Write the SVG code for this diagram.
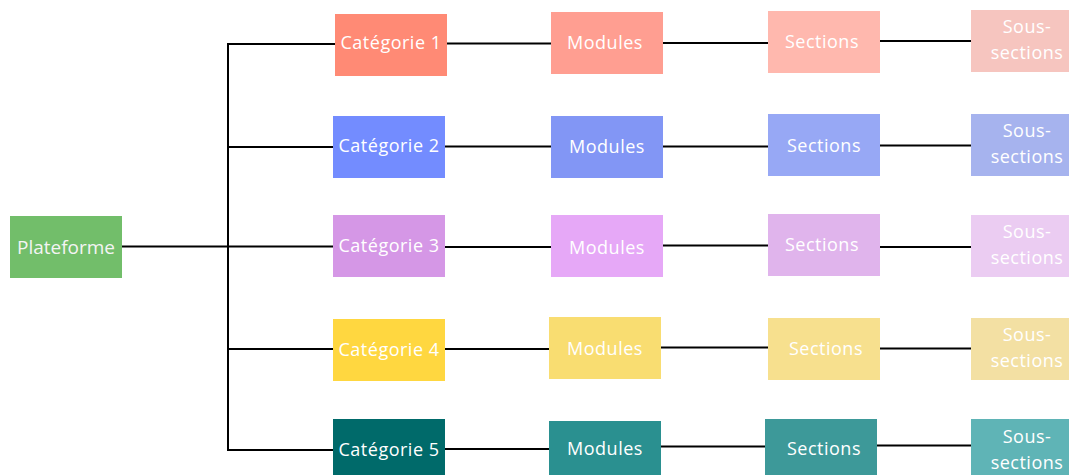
<svg xmlns="http://www.w3.org/2000/svg" width="1069" height="475" viewBox="0 0 1069 475">
<style>
.t{font-family:"Open Sans","Noto Sans",sans-serif;font-size:18px;fill:#fff;text-anchor:middle;letter-spacing:0.5px}
.p{font-family:"Open Sans","Noto Sans",sans-serif;font-size:19px;fill:#f4f4f4;text-anchor:middle}
.c{stroke:#000;stroke-width:2;fill:none}
</style>
<rect width="1069" height="475" fill="#fff"/>
<g id="connectors">
<path class="c" d="M122 246.5H228M228 43V451M228 44H335M228 147H333M228 246.5H333M228 349H333M228 450H333"/>
<path class="c" d="M447 43.5H551M663 43H768M878 41H971"/>
<path class="c" d="M445 146.5H551M663 146.5H768M880 145.5H971"/>
<path class="c" d="M445 247H551M663 245.5H768M880 247H971"/>
<path class="c" d="M445 349H549M661 347.5H768M878 348.5H971"/>
<path class="c" d="M445 449H549M661 446.5H765M877 445.5H971"/>
</g>
<g id="plateforme"><rect x="10" y="216" width="112" height="62" fill="#72be6a"/><text class="p" x="66" y="254">Plateforme</text></g>

<g id="cat1"><rect x="335" y="14" width="112" height="62" fill="#ff8a75"/><text class="t" x="391" y="49">Catégorie 1</text></g>
<g id="mod1"><rect x="551" y="12" width="112" height="62" fill="#ff9e91"/><text class="t" x="605" y="49">Modules</text></g>
<g id="sec1"><rect x="768" y="11" width="112" height="62" fill="#ffb8ae"/><text class="t" x="822" y="48">Sections</text></g>
<g id="sous1"><rect x="971" y="10" width="112" height="62" fill="#f6c5bf"/><text class="t" x="1027" y="33">Sous-</text><text class="t" x="1027" y="59">sections</text></g>

<g id="cat2"><rect x="333" y="116" width="112" height="62" fill="#738cff"/><text class="t" x="389" y="152">Catégorie 2</text></g>
<g id="mod2"><rect x="551" y="116" width="112" height="62" fill="#8296f5"/><text class="t" x="607" y="153">Modules</text></g>
<g id="sec2"><rect x="768" y="114" width="112" height="62" fill="#97a8f5"/><text class="t" x="824" y="152">Sections</text></g>
<g id="sous2"><rect x="971" y="114" width="112" height="62" fill="#a6b3ee"/><text class="t" x="1027" y="137">Sous-</text><text class="t" x="1027" y="163">sections</text></g>

<g id="cat3"><rect x="333" y="215" width="112" height="62" fill="#d597e6"/><text class="t" x="389" y="252">Catégorie 3</text></g>
<g id="mod3"><rect x="551" y="215" width="112" height="62" fill="#e6a8f7"/><text class="t" x="607" y="254">Modules</text></g>
<g id="sec3"><rect x="768" y="214" width="112" height="62" fill="#e0b4ec"/><text class="t" x="822" y="251">Sections</text></g>
<g id="sous3"><rect x="971" y="215" width="112" height="62" fill="#ebccf2"/><text class="t" x="1027" y="238">Sous-</text><text class="t" x="1027" y="264">sections</text></g>

<g id="cat4"><rect x="333" y="319" width="112" height="62" fill="#ffd740"/><text class="t" x="389" y="356">Catégorie 4</text></g>
<g id="mod4"><rect x="549" y="317" width="112" height="62" fill="#f9dd71"/><text class="t" x="605" y="355">Modules</text></g>
<g id="sec4"><rect x="768" y="318" width="112" height="62" fill="#f7e08e"/><text class="t" x="826" y="355">Sections</text></g>
<g id="sous4"><rect x="971" y="318" width="112" height="62" fill="#f3e0a3"/><text class="t" x="1027" y="341">Sous-</text><text class="t" x="1027" y="367">sections</text></g>

<g id="cat5"><rect x="333" y="419" width="112" height="62" fill="#006a6a"/><text class="t" x="389" y="456">Catégorie 5</text></g>
<g id="mod5"><rect x="549" y="421" width="112" height="62" fill="#2a9090"/><text class="t" x="605" y="455">Modules</text></g>
<g id="sec5"><rect x="765" y="419" width="112" height="62" fill="#3d9999"/><text class="t" x="824" y="455">Sections</text></g>
<g id="sous5"><rect x="971" y="419" width="112" height="62" fill="#5fb4b6"/><text class="t" x="1027" y="443">Sous-</text><text class="t" x="1027" y="469">sections</text></g>
</svg>
